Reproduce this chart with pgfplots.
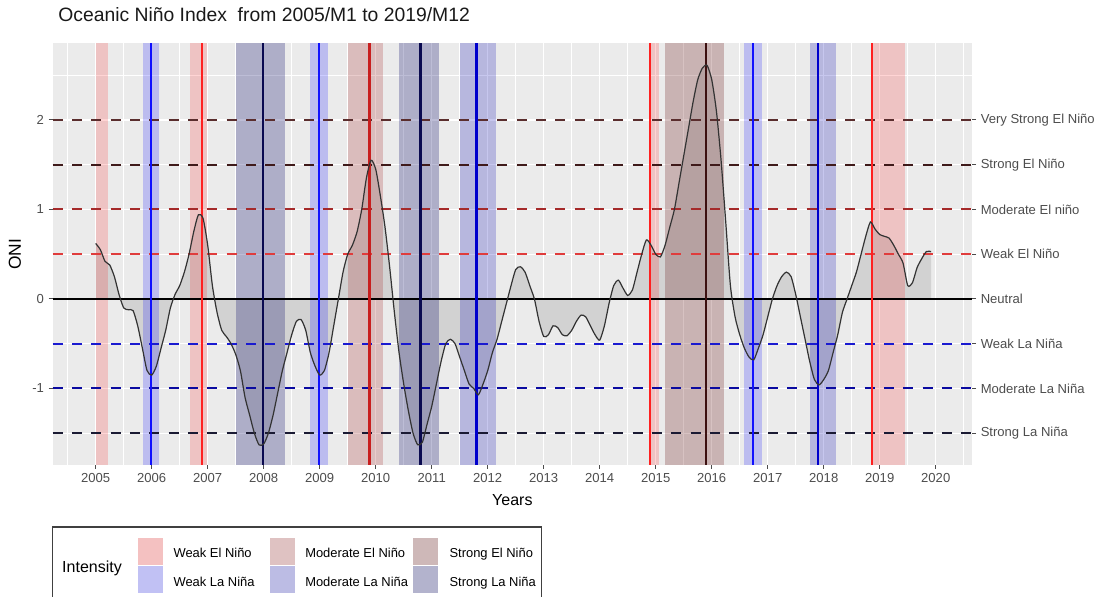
\documentclass[border=0pt]{standalone}
\usepackage{pgfplots}
\pgfplotsset{compat=1.18}
\usepackage{pgfplotstable}
\usepackage{fontspec}
\setmainfont{Liberation Sans}
\definecolor{panelgrey}{HTML}{EBEBEB}
\definecolor{areagrey}{HTML}{D2D2D2}
\definecolor{curvecol}{HTML}{333333}
\definecolor{txtgrey}{HTML}{4D4D4D}
% dashed threshold lines
\definecolor{hvstrong}{HTML}{5A2D2D}
\definecolor{hstrongel}{HTML}{3F1A1A}
\definecolor{hmodel}{HTML}{A52A2A}
\definecolor{hweakel}{HTML}{E03C3C}
\definecolor{hweakla}{HTML}{1A1AD0}
\definecolor{hmodla}{HTML}{0A0AA0}
\definecolor{hstrongla}{HTML}{1A1A33}
% event lines
\definecolor{vweakel}{HTML}{FF2020}
\definecolor{vmodel}{HTML}{C81E1E}
\definecolor{vstrongel}{HTML}{3C1010}
\definecolor{vweakla}{HTML}{1010FF}
\definecolor{vmodla}{HTML}{0000CC}
\definecolor{vstrongla}{HTML}{0A0A50}
% event bands
\definecolor{bstrongel}{HTML}{6E1E1E}
\definecolor{bmodla}{HTML}{0000B4}
\definecolor{bstrongla}{HTML}{000064}
\pgfplotsset{
  weakel/.style={fill=red,fill opacity=0.17,draw=none},
  model/.style={fill=hmodel,fill opacity=0.24,draw=none},
  strongel/.style={fill=bstrongel,fill opacity=0.27,draw=none},
  weakla/.style={fill=blue,fill opacity=0.2,draw=none},
  modla/.style={fill=bmodla,fill opacity=0.22,draw=none},
  strongla/.style={fill=bstrongla,fill opacity=0.26,draw=none},
  vline/.style={line width=1.6pt},
  hline/.style={line width=1.5pt,dash pattern=on 7.5pt off 7pt},
}
\pgfplotstableread{
year month oni
2005 1 0.62
2005 2 0.55
2005 3 0.42
2005 4 0.38
2005 5 0.25
2005 6 0.05
2005 7 -0.10
2005 8 -0.12
2005 9 -0.13
2005 10 -0.30
2005 11 -0.55
2005 12 -0.80
2006 1 -0.85
2006 2 -0.75
2006 3 -0.55
2006 4 -0.35
2006 5 -0.10
2006 6 0.05
2006 7 0.15
2006 8 0.30
2006 9 0.50
2006 10 0.75
2006 11 0.94
2006 12 0.90
2007 1 0.60
2007 2 0.15
2007 3 -0.15
2007 4 -0.35
2007 5 -0.42
2007 6 -0.50
2007 7 -0.62
2007 8 -0.80
2007 9 -1.10
2007 10 -1.30
2007 11 -1.50
2007 12 -1.63
2008 1 -1.62
2008 2 -1.50
2008 3 -1.30
2008 4 -1.05
2008 5 -0.80
2008 6 -0.60
2008 7 -0.40
2008 8 -0.25
2008 9 -0.23
2008 10 -0.35
2008 11 -0.60
2008 12 -0.75
2009 1 -0.85
2009 2 -0.80
2009 3 -0.60
2009 4 -0.30
2009 5 0.00
2009 6 0.30
2009 7 0.50
2009 8 0.60
2009 9 0.75
2009 10 1.00
2009 11 1.35
2009 12 1.55
2010 1 1.45
2010 2 1.15
2010 3 0.80
2010 4 0.35
2010 5 -0.15
2010 6 -0.60
2010 7 -0.95
2010 8 -1.25
2010 9 -1.50
2010 10 -1.63
2010 11 -1.60
2010 12 -1.40
2011 1 -1.20
2011 2 -0.95
2011 3 -0.70
2011 4 -0.50
2011 5 -0.45
2011 6 -0.50
2011 7 -0.65
2011 8 -0.80
2011 9 -0.95
2011 10 -1.00
2011 11 -1.07
2011 12 -0.95
2012 1 -0.80
2012 2 -0.60
2012 3 -0.45
2012 4 -0.25
2012 5 -0.05
2012 6 0.15
2012 7 0.33
2012 8 0.36
2012 9 0.30
2012 10 0.15
2012 11 0.00
2012 12 -0.25
2013 1 -0.42
2013 2 -0.40
2013 3 -0.30
2013 4 -0.32
2013 5 -0.40
2013 6 -0.41
2013 7 -0.35
2013 8 -0.25
2013 9 -0.18
2013 10 -0.20
2013 11 -0.30
2013 12 -0.40
2014 1 -0.46
2014 2 -0.30
2014 3 -0.05
2014 4 0.15
2014 5 0.21
2014 6 0.12
2014 7 0.04
2014 8 0.10
2014 9 0.30
2014 10 0.50
2014 11 0.66
2014 12 0.60
2015 1 0.50
2015 2 0.47
2015 3 0.60
2015 4 0.80
2015 5 1.00
2015 6 1.30
2015 7 1.60
2015 8 1.90
2015 9 2.20
2015 10 2.45
2015 11 2.58
2015 12 2.61
2016 1 2.45
2016 2 2.10
2016 3 1.55
2016 4 0.86
2016 5 0.15
2016 6 -0.20
2016 7 -0.40
2016 8 -0.55
2016 9 -0.65
2016 10 -0.68
2016 11 -0.55
2016 12 -0.40
2017 1 -0.20
2017 2 0.00
2017 3 0.15
2017 4 0.25
2017 5 0.30
2017 6 0.25
2017 7 0.05
2017 8 -0.20
2017 9 -0.45
2017 10 -0.70
2017 11 -0.90
2017 12 -0.96
2018 1 -0.90
2018 2 -0.80
2018 3 -0.60
2018 4 -0.40
2018 5 -0.15
2018 6 0.00
2018 7 0.15
2018 8 0.30
2018 9 0.50
2018 10 0.70
2018 11 0.86
2018 12 0.78
2019 1 0.72
2019 2 0.70
2019 3 0.68
2019 4 0.60
2019 5 0.50
2019 6 0.40
2019 7 0.15
2019 8 0.18
2019 9 0.35
2019 10 0.45
2019 11 0.53
2019 12 0.53
}\onidata
\begin{document}
\begin{tikzpicture}[x=0.75pt,y=0.75pt]
\useasboundingbox (0,0) rectangle (1099,596);
\begin{axis}[
  at={(39.525pt,98.25pt)},anchor=south west,
  scale only axis,width=689.5pt,height=316.3pt,
  xmin=2004.232,xmax=2020.648,ymin=-1.855,ymax=2.857,
  axis background/.style={fill=panelgrey},
  axis line style={draw=none},
  xtick={2005,2006,...,2020},
  minor xtick={2004.5,2005.5,...,2020.5},
  ytick={-1,0,1,2},
  minor ytick={-1.5,-0.5,0.5,1.5,2.5},
  grid=both,
  major grid style={white,line width=1pt},
  minor grid style={white,line width=0.5pt},
  xtick pos=left,ytick pos=left,tick align=outside,
  major tick length=3pt,minor tick length=0pt,
  tick style={black!70,line width=0.75pt},
  /pgf/number format/assume math mode=true,
  xticklabel style={font=\fontsize{9.8}{11}\selectfont,text=txtgrey,/pgf/number format/1000 sep={}},
  yticklabel style={font=\fontsize{9.8}{11}\selectfont,text=txtgrey},
  xlabel={Years},ylabel={ONI},
  every axis x label/.style={at={(axis description cs:0.5,-0.083)},anchor=center,font=\fontsize{12}{14}\selectfont},
  every axis y label/.style={at={(axis description cs:-0.041,0.5)},anchor=center,rotate=90,font=\fontsize{13}{15}\selectfont},
  title={Oceanic Niño Index\ \ from 2005/M1 to 2019/M12},
  title style={at={(axis description cs:0.0058,1)},anchor=base west,yshift=10pt,inner sep=0pt,
    font=\fontsize{14.5}{17}\selectfont,text=black!90},
]
% shaded area between curve and zero
\addplot[draw=none,fill=areagrey,smooth,tension=0.4] table[x expr=\thisrow{year}+(\thisrow{month}-1)/12,y=oni] {\onidata} \closedcycle;
% event bands
\addplot[weakel] coordinates {(2005.01,-1.855) (2005.01,2.857) (2005.22,2.857) (2005.22,-1.855)};
\addplot[weakla] coordinates {(2005.84,-1.855) (2005.84,2.857) (2006.13,2.857) (2006.13,-1.855)};
\addplot[weakel] coordinates {(2006.68,-1.855) (2006.68,2.857) (2006.98,2.857) (2006.98,-1.855)};
\addplot[strongla] coordinates {(2007.50,-1.855) (2007.50,2.857) (2008.375,2.857) (2008.375,-1.855)};
\addplot[weakla] coordinates {(2008.83,-1.855) (2008.83,2.857) (2009.14,2.857) (2009.14,-1.855)};
\addplot[model] coordinates {(2009.50,-1.855) (2009.50,2.857) (2010.13,2.857) (2010.13,-1.855)};
\addplot[strongla] coordinates {(2010.41,-1.855) (2010.41,2.857) (2011.13,2.857) (2011.13,-1.855)};
\addplot[modla] coordinates {(2011.50,-1.855) (2011.50,2.857) (2012.14,2.857) (2012.14,-1.855)};
\addplot[weakel] coordinates {(2014.89,-1.855) (2014.89,2.857) (2015.06,2.857) (2015.06,-1.855)};
\addplot[strongel] coordinates {(2015.16,-1.855) (2015.16,2.857) (2016.22,2.857) (2016.22,-1.855)};
\addplot[weakla] coordinates {(2016.58,-1.855) (2016.58,2.857) (2016.89,2.857) (2016.89,-1.855)};
\addplot[modla] coordinates {(2017.76,-1.855) (2017.76,2.857) (2018.21,2.857) (2018.21,-1.855)};
\addplot[weakel] coordinates {(2018.86,-1.855) (2018.86,2.857) (2019.45,2.857) (2019.45,-1.855)};
% intensity thresholds
\addplot[hline,hvstrong] coordinates {(2004.232,2) (2020.648,2)};
\addplot[hline,hstrongel] coordinates {(2004.232,1.5) (2020.648,1.5)};
\addplot[hline,hmodel] coordinates {(2004.232,1) (2020.648,1)};
\addplot[hline,hweakel] coordinates {(2004.232,0.5) (2020.648,0.5)};
\addplot[hline,hweakla] coordinates {(2004.232,-0.5) (2020.648,-0.5)};
\addplot[hline,hmodla] coordinates {(2004.232,-1) (2020.648,-1)};
\addplot[hline,hstrongla] coordinates {(2004.232,-1.5) (2020.648,-1.5)};
\addplot[black,line width=0.9pt] coordinates {(2004.232,0) (2020.648,0)};
% event peaks
\addplot[vline,vweakla] coordinates {(2005.98,-1.855) (2005.98,2.857)};
\addplot[vline,vweakel] coordinates {(2006.90,-1.855) (2006.90,2.857)};
\addplot[vline,vstrongla] coordinates {(2007.99,-1.855) (2007.99,2.857)};
\addplot[vline,vweakla] coordinates {(2008.98,-1.855) (2008.98,2.857)};
\addplot[vline,vmodel] coordinates {(2009.89,-1.855) (2009.89,2.857)};
\addplot[vline,vstrongla] coordinates {(2010.80,-1.855) (2010.80,2.857)};
\addplot[vline,vmodla] coordinates {(2011.80,-1.855) (2011.80,2.857)};
\addplot[vline,vweakel] coordinates {(2014.89,-1.855) (2014.89,2.857)};
\addplot[vline,vstrongel] coordinates {(2015.90,-1.855) (2015.90,2.857)};
\addplot[vline,vweakla] coordinates {(2016.74,-1.855) (2016.74,2.857)};
\addplot[vline,vmodla] coordinates {(2017.90,-1.855) (2017.90,2.857)};
\addplot[vline,vweakel] coordinates {(2018.86,-1.855) (2018.86,2.857)};
% ONI curve
\addplot[curvecol,line width=0.9pt,smooth,tension=0.4] table[x expr=\thisrow{year}+(\thisrow{month}-1)/12,y=oni] {\onidata};
\end{axis}
% right-hand category labels
\begin{axis}[
  at={(39.525pt,98.25pt)},anchor=south west,
  scale only axis,width=689.5pt,height=316.3pt,
  xmin=2004.232,xmax=2020.648,ymin=-1.855,ymax=2.857,
  axis line style={draw=none},xtick=\empty,
  ytick={-1.5,-1,-0.5,0,0.5,1,1.5,2},
  yticklabels={Strong La Niña,Moderate La Niña,Weak La Niña,Neutral,Weak El Niño,Moderate El niño,Strong El Niño,Very Strong El Niño},
  ytick pos=right,yticklabel pos=right,tick align=outside,major tick length=3pt,
  tick style={black!70,line width=0.75pt},
  yticklabel style={font=\fontsize{9.8}{11}\selectfont,text=txtgrey,anchor=west},
]
\addplot[draw=none] coordinates {(2005,0)};
\end{axis}
% legend
\fill[white] (52.7,-3) rectangle (541.7,69);
\draw[black!75,line width=1pt] (52.7,-3) -- (52.7,69) -- (541.7,69) -- (541.7,-3);
\node[anchor=center,font=\fontsize{12}{14}\selectfont] at (92,28) {Intensity};
\foreach \kx/\ky in {138.3/31,138.3/3,270/31,270/3,413.3/31,413.3/3}{
  \fill[black!5] (\kx,\ky) rectangle ++(25,27);
}
\fill[red,fill opacity=0.2] (138.3,31) rectangle ++(25,27);
\fill[blue,fill opacity=0.2] (138.3,3) rectangle ++(25,27);
\fill[hmodel,fill opacity=0.24] (270,31) rectangle ++(25,27);
\fill[bmodla,fill opacity=0.22] (270,3) rectangle ++(25,27);
\fill[bstrongel,fill opacity=0.27] (413.3,31) rectangle ++(25,27);
\fill[bstrongla,fill opacity=0.26] (413.3,3) rectangle ++(25,27);
\begin{scope}[every node/.style={anchor=base west,inner sep=0pt,font=\fontsize{9.7}{11}\selectfont}]
\node at (173.3,38.1) {Weak El Niño};
\node at (173.3,9.7) {Weak La Niña};
\node at (305,38.1) {Moderate El Niño};
\node at (305,9.7) {Moderate La Niña};
\node at (449.3,38.1) {Strong El Niño};
\node at (449.3,9.7) {Strong La Niña};
\end{scope}
\end{tikzpicture}
\end{document}
